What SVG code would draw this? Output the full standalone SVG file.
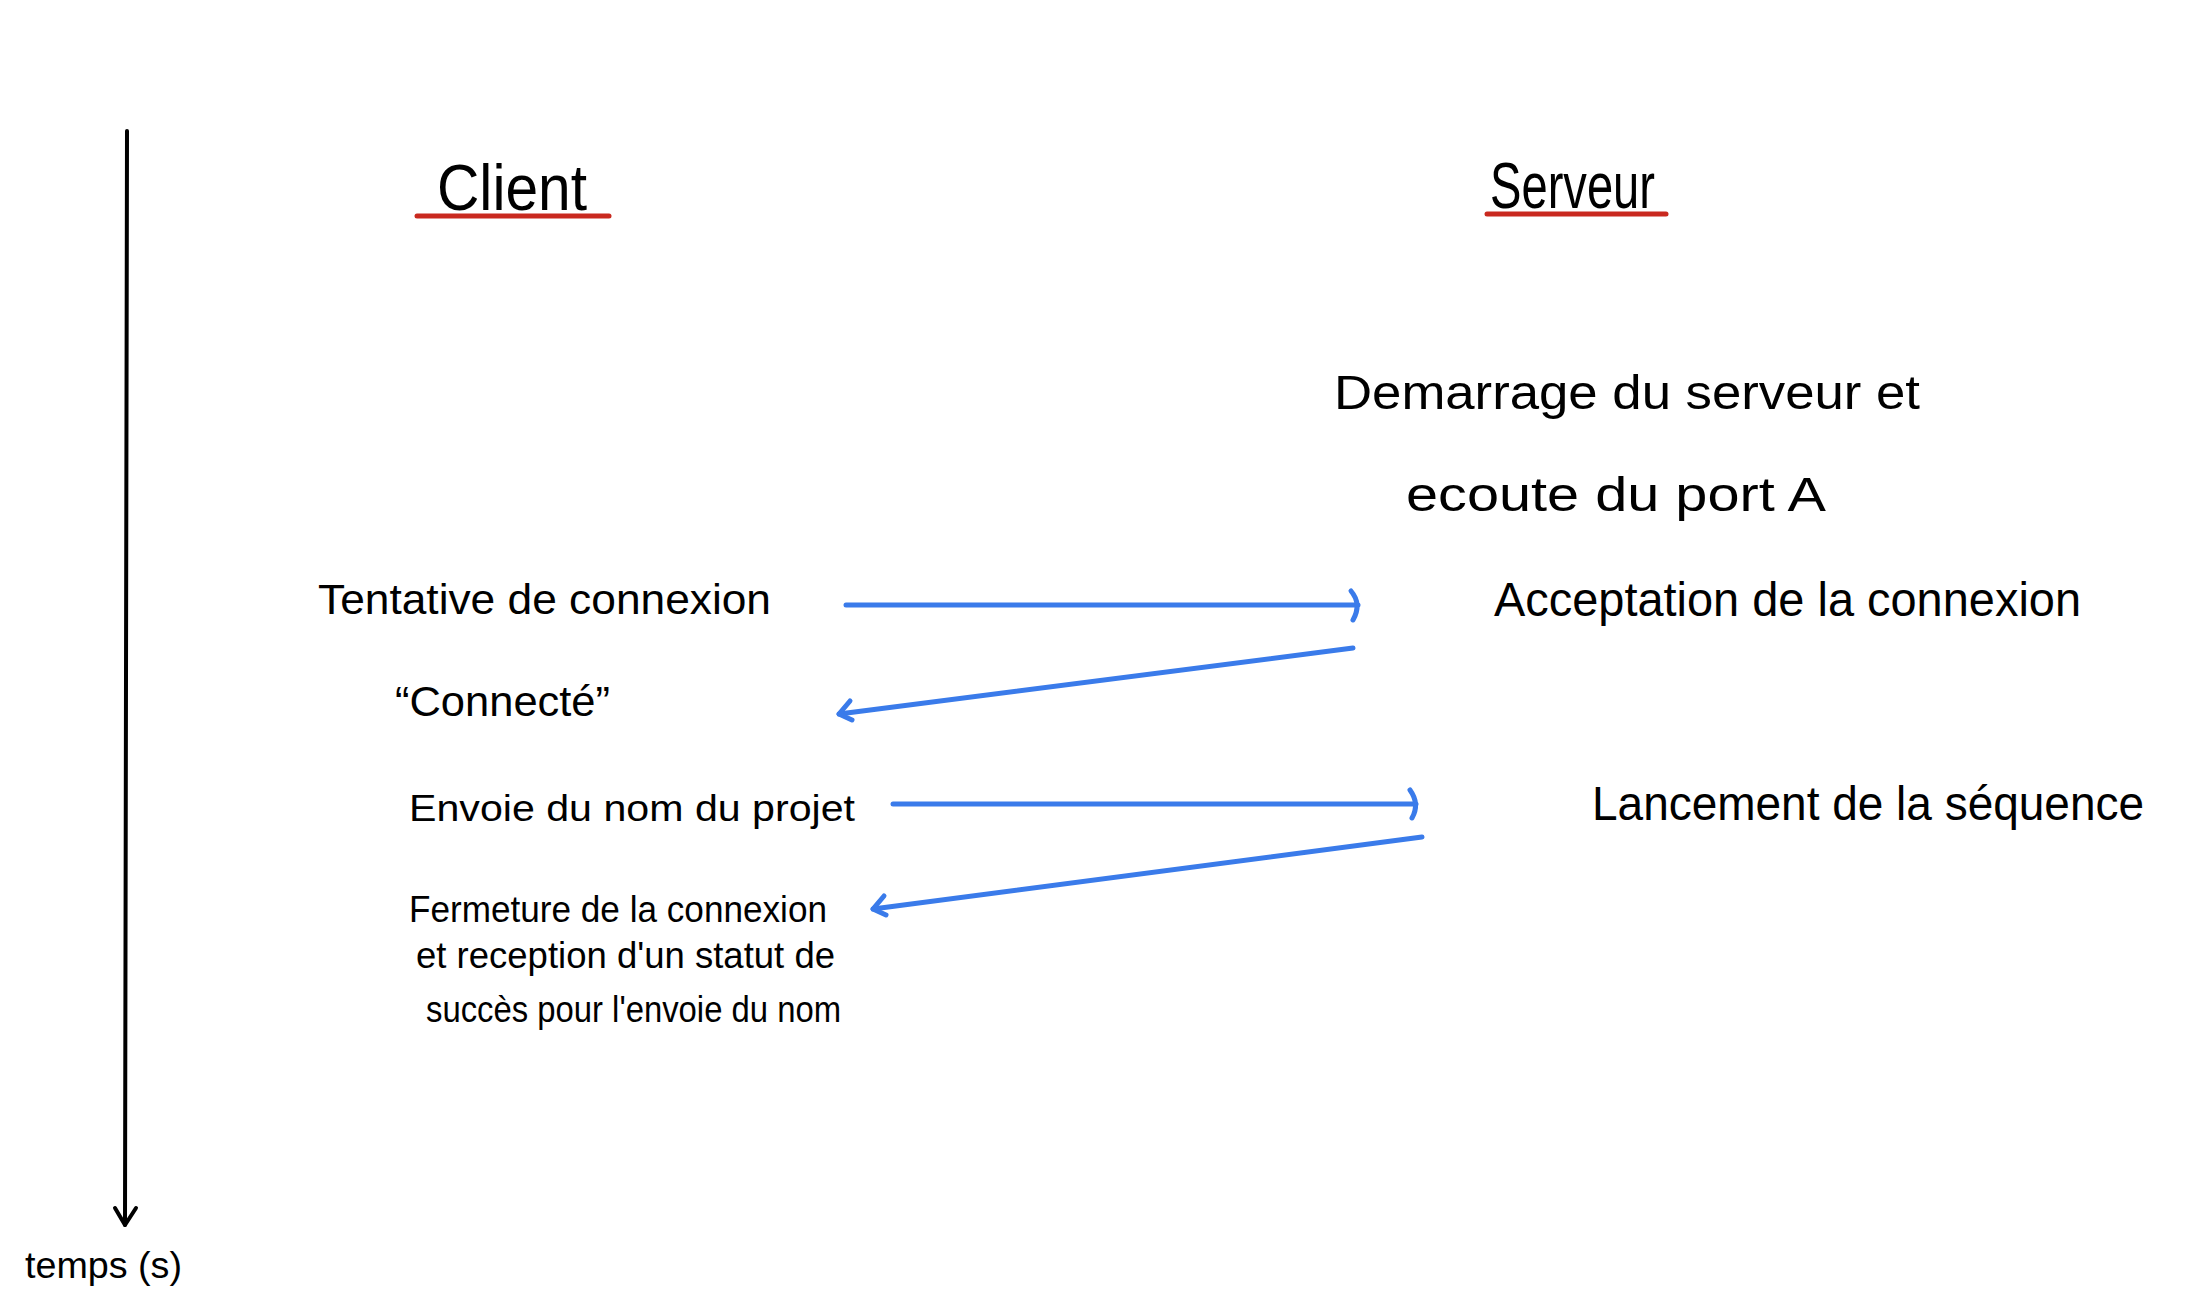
<svg xmlns="http://www.w3.org/2000/svg" width="2190" height="1313" viewBox="0 0 2190 1313">
<style>
text{font-family:"Liberation Sans","DejaVu Sans",sans-serif;fill:#000}
.title{font-size:64px}
.srv{font-size:48px}
.cli{font-size:42px}
.small{font-size:36px}
.ul{stroke:#c9291f;stroke-width:5;stroke-linecap:round}
.conn{stroke:#3a7bea;stroke-width:5;fill:none;stroke-linecap:round;stroke-linejoin:round}
.axis{stroke:#000;stroke-width:4;fill:none;stroke-linecap:round;stroke-linejoin:round}
</style>
<rect width="2190" height="1313" fill="#fff"/>
<g id="time-axis">
<path class="axis" d="M127,131 L125,1225"/>
<path class="axis" d="M115,1208 L125,1225 L136,1208"/>
<text x="25" y="1278" class="small" textLength="157" lengthAdjust="spacingAndGlyphs">temps (s)</text>
</g>
<g id="client-header">
<text x="437" y="210" class="title" textLength="150" lengthAdjust="spacingAndGlyphs">Client</text>
<line class="ul" x1="417" y1="216" x2="609" y2="216"/>
</g>
<g id="serveur-header">
<text x="1490" y="208" class="title" textLength="165" lengthAdjust="spacingAndGlyphs">Serveur</text>
<line class="ul" x1="1487" y1="214" x2="1666" y2="214"/>
</g>
<g id="demarrage">
<text x="1334" y="409" class="srv" textLength="586" lengthAdjust="spacingAndGlyphs">Demarrage du serveur et</text>
<text x="1406" y="511" class="srv" textLength="420" lengthAdjust="spacingAndGlyphs">ecoute du port A</text>
</g>
<g id="acceptation">
<text x="1494" y="616" class="srv" textLength="587" lengthAdjust="spacingAndGlyphs">Acceptation de la connexion</text>
</g>
<g id="tentative">
<text x="318" y="614" class="cli" textLength="453" lengthAdjust="spacingAndGlyphs">Tentative de connexion</text>
</g>
<g id="connecte">
<text x="395" y="716" class="cli" textLength="215" lengthAdjust="spacingAndGlyphs">“Connecté”</text>
</g>
<g id="envoie">
<text x="409" y="821" class="small" textLength="446" lengthAdjust="spacingAndGlyphs">Envoie du nom du projet</text>
</g>
<g id="lancement">
<text x="1592" y="820" class="srv" textLength="552" lengthAdjust="spacingAndGlyphs">Lancement de la séquence</text>
</g>
<g id="fermeture">
<text x="409" y="922" class="small" textLength="418" lengthAdjust="spacingAndGlyphs">Fermeture de la connexion</text>
<text x="416" y="968" class="small" textLength="419" lengthAdjust="spacingAndGlyphs">et reception d'un statut de</text>
<text x="426" y="1022" class="small" textLength="415" lengthAdjust="spacingAndGlyphs">succès pour l'envoie du nom</text>
</g>
<g id="connectors">
<path class="conn" d="M846,605 L1358,605"/>
<path class="conn" d="M1351,591 Q1362,604 1353,620"/>
<path class="conn" d="M1353,648 L839,714"/>
<path class="conn" d="M850,701 L839,714 L852,720"/>
<path class="conn" d="M893,804 L1416,804"/>
<path class="conn" d="M1410,790 Q1420,804 1412,818"/>
<path class="conn" d="M1422,837 L873,909"/>
<path class="conn" d="M884,896 L873,909 L886,915"/>
</g>
</svg>
